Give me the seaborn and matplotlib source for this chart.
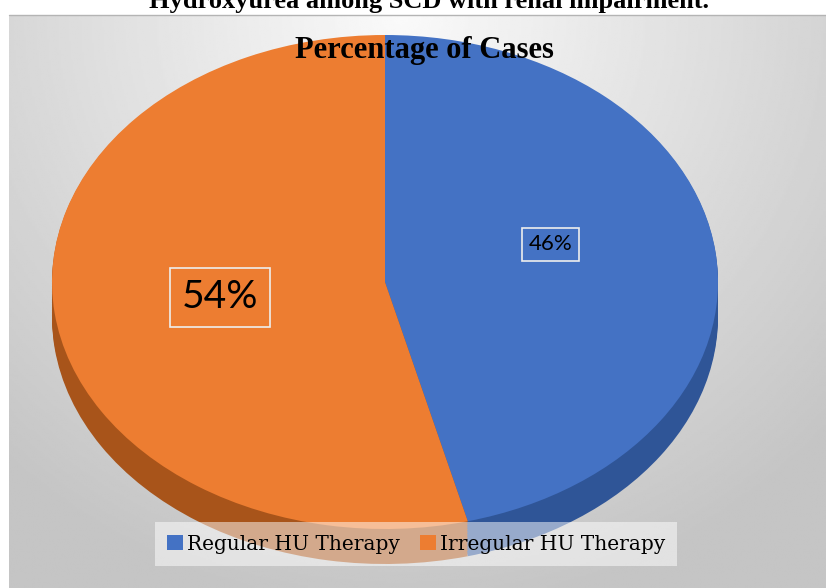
import numpy as np
import matplotlib.pyplot as plt
import seaborn as sns
from matplotlib.patches import Patch
from matplotlib.lines import Line2D

categories = ["Regular HU Therapy", "Irregular HU Therapy"]
percent = [46, 54]
top_colors = ["#4472C4", "#ED7D31"]
side_colors = ["#2F5597", "#A8541A"]
label_sizes = [16, 28]
label_lift = [0.09, 0.0]

sns.set_style("white")
plt.rcParams['font.family'] = ['DejaVu Serif']
plt.rcParams['text.color'] = 'black'

W, H = 826, 588
fig = plt.figure(figsize=(W / 100, H / 100), dpi=100)

# gray gradient panel behind the chart
bg = fig.add_axes([9 / W, 0, (W - 9) / W, (H - 15) / H])
yy, xx = np.mgrid[0:1:300j, 0:1:400j]
r = np.sqrt(((xx - 0.48) / 0.7) ** 2 + yy ** 2)
shade = np.clip(0.98 - 0.2 * r, 0.77, 1)
bg.imshow(shade, cmap='gray', vmin=0, vmax=1, aspect='auto')
bg.axis('off')
fig.add_artist(Line2D([9 / W, 1], [1 - 15 / H] * 2, color='#b4b4b4', lw=1))

# pie geometry in pixels: centre, radii, extrusion depth
cx, cy, rx, ry = 385, 282, 333, 247
depth = 35

ax = fig.add_axes([0, 0, 1, 1])
ax.patch.set_alpha(0)
for off in np.linspace(depth, 1, 14):
    ax.pie(percent, colors=side_colors, startangle=90, counterclock=False,
           center=(0, -off / ry), wedgeprops=dict(linewidth=0))
wedges, _, autotexts = ax.pie(percent, colors=top_colors, startangle=90,
                              counterclock=False, autopct='%.0f%%',
                              pctdistance=0.5, wedgeprops=dict(linewidth=0))
ax.set_xlim(-cx / rx, (W - cx) / rx)
ax.set_ylim(-(H - cy) / ry, cy / ry)
ax.set_aspect('auto')
ax.axis('off')

for t, size, lift in zip(autotexts, label_sizes, label_lift):
    x, y = t.get_position()
    t.set_position((x, y + lift))
    t.set_family(['Lato', 'DejaVu Sans'])
    t.set_fontsize(size)
    t.set_color('black')
    t.set_bbox(dict(boxstyle='square,pad=0.3', fc='none', ec='#eeeeee', lw=1.2))

fig.text(429 / W, 1 - 8 / H, "Hydroxyurea among SCD with renal impairment.",
         ha='center', va='baseline', fontsize=19, fontweight='bold',
         family='Liberation Serif', color='black')
fig.text(424 / W, 1 - 58 / H, "Percentage of Cases", ha='center', va='baseline',
         fontsize=22, fontweight='bold', family='Liberation Serif', color='black')

handles = [Patch(facecolor=c, edgecolor='none') for c in top_colors]
leg = ax.legend(handles, categories, loc='center', bbox_to_anchor=(416 / W, 1 - 544 / H),
                bbox_transform=fig.transFigure, ncol=2, frameon=True, framealpha=0.5,
                facecolor='white', edgecolor='none', fancybox=False, handlelength=0.8,
                handleheight=0.8, handletextpad=0.2, columnspacing=1.0, fontsize=14.5,
                borderpad=0.6)
for txt in leg.get_texts():
    txt.set_color('black')

fig.savefig("out.png", dpi=100)
